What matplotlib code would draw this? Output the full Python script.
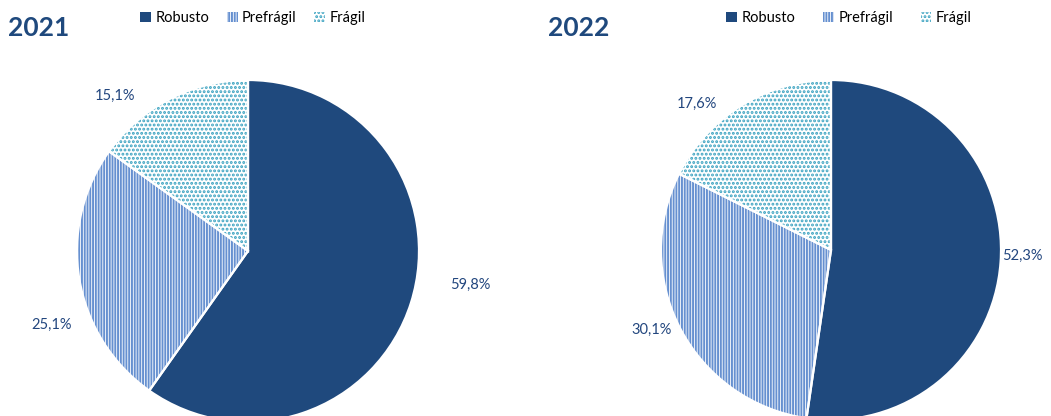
import matplotlib
matplotlib.use('Agg')
import matplotlib.pyplot as plt
import matplotlib.patches as mpatches

plt.rcParams['font.family'] = ['Lato', 'DejaVu Sans']
plt.rcParams['hatch.linewidth'] = 1.4

# data
categories = ['Robusto', 'Prefrágil', 'Frágil']
years = ['2021', '2022']
values_2021 = [59.8, 25.1, 15.1]
values_2022 = [52.3, 30.1, 17.6]

# styles
navy = '#1F497D'
stripe_col = '#6690D0'
dot_col = '#3AA2C0'
label_col = '#22467E'
faces = [navy, 'white', 'white']
hatch_cols = [navy, stripe_col, dot_col]
hatches = [None, '||||||', '....']

fig = plt.figure(figsize=(10.51, 4.16), dpi=100)
W, H = 1051, 416


def draw_pie(values, cx, cy, R, label_pos, title, title_x, leg_x, colsp):
    ax = fig.add_axes([(cx - R) / W, (H - cy - R) / H, 2 * R / W, 2 * R / H])
    wedges, _ = ax.pie(values, startangle=90, counterclock=False, radius=1,
                       colors=faces, wedgeprops=dict(linewidth=0))
    for w, hc, h in zip(wedges, hatch_cols, hatches):
        w.set_edgecolor(hc)
        if h:
            w.set_hatch(h)
    # white separators drawn on top
    ax.pie(values, startangle=90, counterclock=False, radius=1,
           colors=['none'] * 3,
           wedgeprops=dict(linewidth=1.6, edgecolor='white', fill=False))
    ax.set_xlim(-1, 1)
    ax.set_ylim(-1, 1)
    ax.set_aspect('equal')
    ax.axis('off')
    for v, (lx, ly) in zip(values, label_pos):
        ax.text(lx, ly, ('%.1f%%' % v).replace('.', ','), ha='center', va='center',
                fontsize=10.5, color=label_col, clip_on=False)
    fig.text(title_x / W, 1 - 28 / H, title, fontsize=19, fontweight='bold',
             color=navy, ha='left', va='center')
    handles = [mpatches.Patch(facecolor=f, edgecolor=hc, hatch=h, linewidth=0)
               for f, hc, h in zip(faces, hatch_cols, hatches)]
    fig.legend(handles, categories, loc='center left',
               bbox_to_anchor=(leg_x / W, 1 - 18 / H), ncol=3, frameon=False,
               fontsize=10.5, handlelength=0.75, handleheight=0.75,
               handletextpad=0.3, columnspacing=colsp, borderpad=0,
               borderaxespad=0)


draw_pie(values_2021, 248, 251, 171,
         [(1.30, -0.20), (-1.146, -0.433), (-0.778, 0.906)],
         years[0], 8, 140, 1.2)
draw_pie(values_2022, 831, 250, 170,
         [(1.124, -0.035), (-1.053, -0.47), (-0.788, 0.859)],
         years[1], 548, 726, 1.9)

plt.savefig('out.png', dpi=100)
